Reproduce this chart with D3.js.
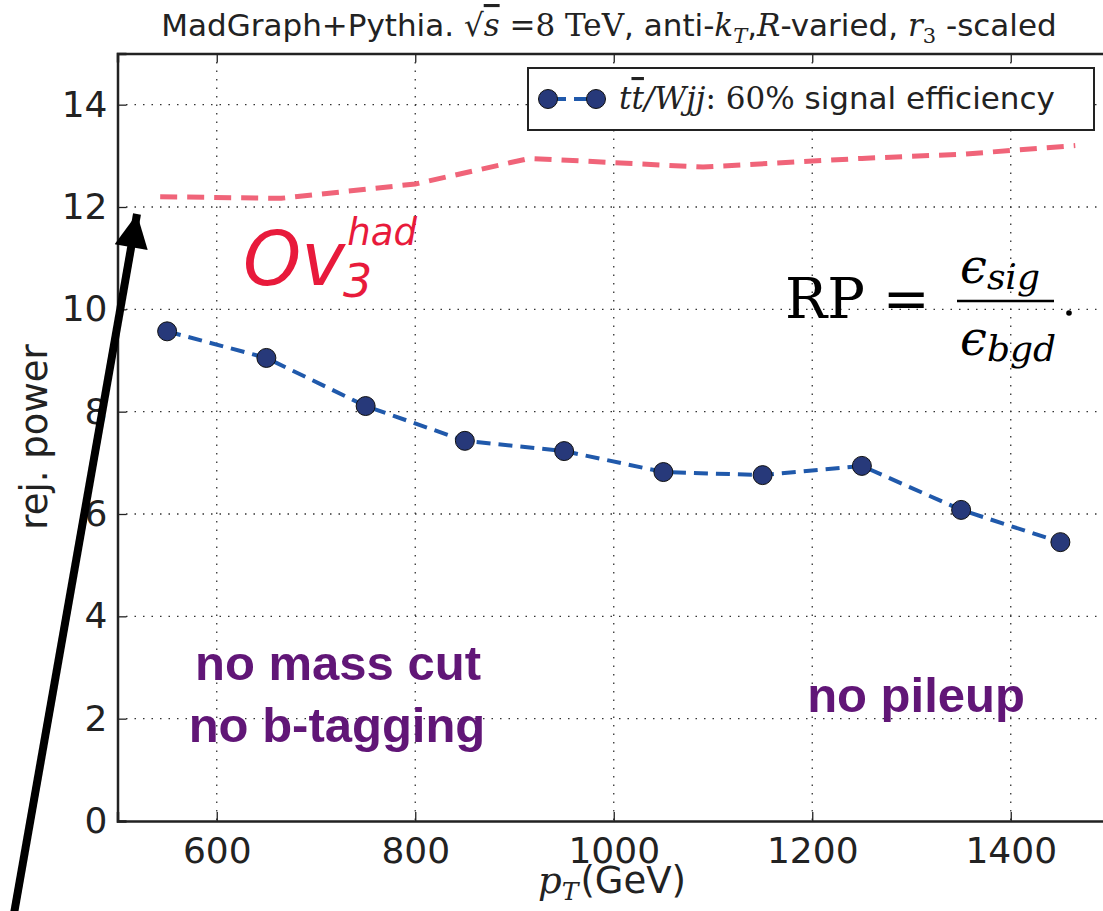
<!DOCTYPE html>
<html>
<head>
<meta charset="utf-8">
<script src="https://cdn.jsdelivr.net/npm/d3@7/dist/d3.min.js"></script>
<style>
  body { margin: 0; background: #fff; overflow: hidden; }
  svg { display: block; }
  .tick text { font-family: "DejaVu Sans", sans-serif; }
</style>
</head>
<body>
<div id="chart"></div>
<script>
// data
var pt_values = [550, 650, 750, 850, 950, 1050, 1150, 1250, 1350, 1450];
var rej_power = [9.57, 9.05, 8.11, 7.43, 7.23, 6.82, 6.76, 6.94, 6.08, 5.45];
var ov_pt = [543, 665, 800, 915, 1090, 1250, 1350, 1465];
var ov_power = [12.2, 12.17, 12.45, 12.95, 12.78, 12.95, 13.03, 13.2];
var x_ticks = [600, 800, 1000, 1200, 1400];
var y_ticks = [0, 2, 4, 6, 8, 10, 12, 14];

var W = 1103, H = 911;
var pLeft = 117.5, pRight = 1110, pTop = 53.5, pBottom = 821;

var svg = d3.select("#chart").append("svg")
    .attr("width", W).attr("height", H);

var x = d3.scaleLinear().domain([500, 1500]).range([pLeft, pRight]);
var y = d3.scaleLinear().domain([0, 15]).range([pBottom, pTop]);

// grid
svg.append("g").selectAll("line")
    .data(x_ticks).join("line")
    .attr("x1", d => x(d)).attr("x2", d => x(d))
    .attr("y1", pTop).attr("y2", pBottom)
    .style("stroke", "#333").style("stroke-width", 1.3)
    .style("stroke-dasharray", "1.5,7");
svg.append("g").selectAll("line")
    .data(y_ticks.filter(d => d > 0)).join("line")
    .attr("x1", pLeft).attr("x2", pRight)
    .attr("y1", d => y(d)).attr("y2", d => y(d))
    .style("stroke", "#333").style("stroke-width", 1.3)
    .style("stroke-dasharray", "1.5,7");

// axes (ticks inward)
var xAxis = svg.append("g").attr("transform", "translate(0," + pBottom + ")")
    .call(d3.axisBottom(x).tickValues(x_ticks).tickFormat(d3.format("d")).tickSize(-9).tickPadding(16));
var xTop = svg.append("g").attr("transform", "translate(0," + pTop + ")")
    .call(d3.axisTop(x).tickValues(x_ticks).tickSize(-9).tickFormat(""));
var yAxis = svg.append("g").attr("transform", "translate(" + pLeft + ",0)")
    .call(d3.axisLeft(y).tickValues(y_ticks).tickSize(-9).tickPadding(10));
[xAxis, xTop, yAxis].forEach(function (g) {
    g.select(".domain").style("stroke", "#222").style("stroke-width", 2.5);
    g.selectAll(".tick line").style("stroke", "#222").style("stroke-width", 1.3);
    g.selectAll(".tick text").style("font-size", "36px").style("fill", "#222");
});
xAxis.selectAll(".tick text").attr("dy", "0.71em");

// Ov3 line
var line = d3.line().x(d => x(d[0])).y(d => y(d[1]));
svg.append("path")
    .datum(ov_pt.map((d, i) => [d, ov_power[i]]))
    .attr("d", line)
    .style("fill", "none").style("stroke", "#f06479").style("stroke-width", 5)
    .style("stroke-dasharray", "17,10");

// blue series
svg.append("path")
    .datum(pt_values.map((d, i) => [d, rej_power[i]]))
    .attr("d", line)
    .style("fill", "none").style("stroke", "#2059ab").style("stroke-width", 4)
    .style("stroke-dasharray", "14,8");
svg.selectAll(".pt")
    .data(pt_values)
    .join("circle")
    .attr("class", "pt")
    .attr("cx", d => x(d))
    .attr("cy", (d, i) => y(rej_power[i]))
    .attr("r", 9.5)
    .style("fill", "#27397a").style("stroke", "#111").style("stroke-width", 1);

// title
var serif = "DejaVu Serif, serif";
var title = svg.append("text")
    .attr("x", 609).attr("y", 36)
    .attr("text-anchor", "middle")
    .style("font-family", "DejaVu Sans, sans-serif").style("font-size", "31px")
    .style("fill", "#222");
title.append("tspan").text("MadGraph+Pythia. ");
title.append("tspan").style("font-family", serif).text("√");
title.append("tspan").style("font-family", serif).style("font-style", "italic")
    .style("text-decoration", "overline").text("s");
title.append("tspan").style("font-family", serif).text(" =8 TeV");
title.append("tspan").text(", anti-");
title.append("tspan").style("font-family", serif).style("font-style", "italic").text("k");
title.append("tspan").style("font-family", serif).style("font-style", "italic")
    .style("font-size", "21px").attr("dy", 7).text("T");
title.append("tspan").attr("dy", -7).text(",");
title.append("tspan").style("font-family", serif).style("font-style", "italic").text("R");
title.append("tspan").text("-varied, ");
title.append("tspan").style("font-family", serif).style("font-style", "italic").text("r");
title.append("tspan").style("font-family", serif).style("font-size", "21px")
    .attr("dy", 7).text("3");
title.append("tspan").attr("dy", -7).text(" -scaled");

// axis labels
svg.append("text")
    .attr("transform", "translate(47,437) rotate(-90)")
    .attr("text-anchor", "middle")
    .style("font-family", "DejaVu Sans, sans-serif").style("font-size", "37px")
    .style("fill", "#222")
    .text("rej. power");
var xl = svg.append("text")
    .attr("x", 612).attr("y", 893)
    .attr("text-anchor", "middle")
    .style("font-family", "DejaVu Sans, sans-serif").style("font-size", "37px")
    .style("fill", "#222");
xl.append("tspan").style("font-family", serif).style("font-style", "italic").text("p");
xl.append("tspan").style("font-family", serif).style("font-style", "italic")
    .style("font-size", "25px").attr("dy", 7).text("T");
xl.append("tspan").attr("dy", -7).attr("dx", 2).text("(GeV)");

// legend
svg.append("rect")
    .attr("x", 528).attr("y", 68).attr("width", 566).attr("height", 62)
    .style("fill", "#fff").style("stroke", "#222").style("stroke-width", 2);
svg.append("line")
    .attr("x1", 548).attr("x2", 596).attr("y1", 99).attr("y2", 99)
    .style("stroke", "#2059ab").style("stroke-width", 4).style("stroke-dasharray", "14,8")
    .style("stroke-dashoffset", -4);
svg.selectAll(".lg")
    .data([548, 596]).join("circle")
    .attr("class", "lg")
    .attr("cx", d => d).attr("cy", 99).attr("r", 9.5)
    .style("fill", "#27397a").style("stroke", "#111").style("stroke-width", 1);
var lt = svg.append("text")
    .attr("x", 619).attr("y", 109)
    .style("font-family", "DejaVu Sans, sans-serif").style("font-size", "31px")
    .style("fill", "#222");
lt.append("tspan").style("font-family", serif).style("font-style", "italic").text("t");
lt.append("tspan").style("font-family", serif).style("font-style", "italic")
    .style("text-decoration", "overline").text("t");
lt.append("tspan").style("font-family", serif).style("font-style", "italic").text("/Wjj");
lt.append("tspan").style("font-family", serif).text(": 60%");
lt.append("tspan").text(" signal efficiency");

// Ov3^had label
var ov = svg.append("text")
    .attr("x", 243).attr("y", 285)
    .style("font-family", "DejaVu Sans, sans-serif").style("font-style", "italic")
    .style("fill", "#e81a3b");
ov.append("tspan").style("font-size", "74px").text("Ov");
ov.append("tspan").style("font-size", "46px").attr("dy", 12).attr("dx", -2).text("3");
ov.append("tspan").style("font-size", "37px").attr("dy", -52).attr("dx", -25).text("had");

// RP formula
svg.append("text")
    .attr("x", 785).attr("y", 318)
    .style("font-family", serif).style("font-size", "56px")
    .style("fill", "#000").text("RP =");
svg.append("line")
    .attr("x1", 957).attr("x2", 1054).attr("y1", 301).attr("y2", 301)
    .style("stroke", "#000").style("stroke-width", 2.5);
var num = svg.append("text")
    .attr("x", 960).attr("y", 283)
    .style("font-family", serif).style("font-style", "italic")
    .style("fill", "#000");
num.append("tspan").style("font-size", "48px").text("ϵ");
num.append("tspan").style("font-size", "36px").attr("dy", 6).text("sig");
var den = svg.append("text")
    .attr("x", 960).attr("y", 355)
    .style("font-family", serif).style("font-style", "italic")
    .style("fill", "#000");
den.append("tspan").style("font-size", "48px").text("ϵ");
den.append("tspan").style("font-size", "36px").attr("dy", 6).text("bgd");
svg.append("circle").attr("cx", 1069).attr("cy", 313).attr("r", 2.8).style("fill", "#000");

// purple notes
var notes = [
    { t: "no mass cut", x: 338, y: 680 },
    { t: "no b-tagging", x: 337, y: 742 },
    { t: "no pileup", x: 916, y: 712 }
];
svg.selectAll(".note")
    .data(notes).join("text")
    .attr("class", "note")
    .attr("x", d => d.x).attr("y", d => d.y)
    .attr("text-anchor", "middle")
    .style("font-family", "Liberation Sans, Arial, sans-serif").style("font-weight", "bold")
    .style("font-size", "49px").style("fill", "#611677")
    .text(d => d.t);

// arrow
svg.append("defs").append("marker")
    .attr("id", "head")
    .attr("viewBox", "0 0 10 10")
    .attr("refX", 10).attr("refY", 5)
    .attr("markerWidth", 4.8).attr("markerHeight", 4.2)
    .attr("markerUnits", "strokeWidth")
    .attr("orient", "auto")
    .append("path").attr("d", "M0,0 L10,5 L0,10 z").style("fill", "#000");
svg.append("line")
    .attr("x1", 12).attr("y1", 925)
    .attr("x2", 137).attr("y2", 214)
    .style("stroke", "#000").style("stroke-width", 8)
    .attr("marker-end", "url(#head)");
</script>
</body>
</html>
